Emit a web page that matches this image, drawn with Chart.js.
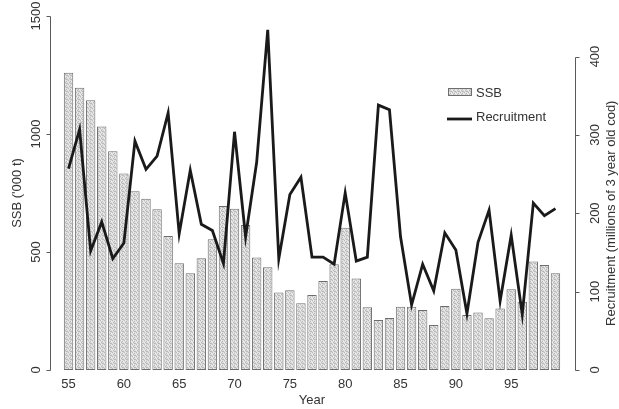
<!DOCTYPE html>
<html>
<head>
<meta charset="utf-8">
<script src="https://cdn.jsdelivr.net/npm/chart.js@4.4.1/dist/chart.umd.min.js"></script>
<style>
  html, body { margin: 0; padding: 0; background: #fff; }
  #wrap { width: 619px; height: 409px; }
</style>
</head>
<body>
<div id="wrap"><canvas id="codChart" width="619" height="409"></canvas></div>
<script>
// data
const years = [];
for (let y = 1955; y <= 1999; y++) years.push(y);

const ssb = [1260, 1196, 1143, 1032, 927, 833, 757, 726, 681, 568,
             452, 410, 473, 554, 695, 683, 614, 477, 435, 328,
             338, 283, 318, 377, 448, 603, 388, 266, 212, 220,
             268, 268, 254, 191, 271, 344, 233, 244, 219, 261,
             342, 289, 460, 445, 410];

const recruitment = [257, 307, 152, 189, 142, 162, 292, 256, 273, 328,
                     174, 255, 186, 178, 136, 304, 170, 265, 434, 142,
                     224, 246, 144, 144, 135, 226, 139, 144, 338, 332,
                     170, 83, 135, 101, 175, 153, 72, 163, 204, 88,
                     172, 71, 213, 197, 206];

const ssbTicks = [0, 500, 1000, 1500];
const recTicks = [0, 100, 200, 300, 400];
const yearTicks = [1955, 1960, 1965, 1970, 1975, 1980, 1985, 1990, 1995];

const FONT = '13px "Liberation Sans", Arial, sans-serif';
const TEXT = '#333333';
const AXIS = '#5a5a5a';

// stippled grey fill like the printed bars
function makePattern() {
    const c = document.createElement('canvas');
    c.width = 4; c.height = 4;
    const p = c.getContext('2d');
    p.fillStyle = '#dcdcdc';
    p.fillRect(0, 0, 4, 4);
    p.fillStyle = '#b8b8b8';
    [[0, 0], [2, 1], [1, 2], [3, 3], [2, 3]].forEach(([x, y]) => p.fillRect(x, y, 1, 1));
    p.fillStyle = '#eeeeee';
    [[1, 0], [3, 1], [0, 2]].forEach(([x, y]) => p.fillRect(x, y, 1, 1));
    return p.createPattern(c, 'repeat');
}
const barFill = makePattern();

function vText(ctx, txt, x, y) {
    ctx.save();
    ctx.translate(x, y);
    ctx.rotate(-Math.PI / 2);
    ctx.textAlign = 'center';
    ctx.textBaseline = 'middle';
    ctx.fillText(txt, 0, 0);
    ctx.restore();
}

// detached axes, tick labels, titles and legend
const axesPlugin = {
    id: 'rAxes',
    afterDraw(chart) {
        const ctx = chart.ctx;
        const ys = chart.scales.y, yr = chart.scales.y1, xs = chart.scales.x;
        ctx.save();
        ctx.strokeStyle = AXIS;
        ctx.lineWidth = 1;
        ctx.fillStyle = TEXT;
        ctx.font = FONT;

        // left axis
        const lx = 50.5;
        ctx.beginPath();
        ctx.moveTo(lx, Math.round(ys.getPixelForValue(0)) + 0.5);
        ctx.lineTo(lx, Math.round(ys.getPixelForValue(1500)) + 0.5);
        ssbTicks.forEach(v => {
            const py = Math.round(ys.getPixelForValue(v)) + 0.5;
            ctx.moveTo(lx - 4, py);
            ctx.lineTo(lx, py);
        });
        ctx.stroke();
        ssbTicks.forEach(v => vText(ctx, String(v), 36, ys.getPixelForValue(v)));
        vText(ctx, "SSB ('000 t)", 17, (ys.top + ys.bottom) / 2);

        // right axis
        const rx = 575.5;
        ctx.beginPath();
        ctx.moveTo(rx, Math.round(yr.getPixelForValue(0)) + 0.5);
        ctx.lineTo(rx, Math.round(yr.getPixelForValue(400)) + 0.5);
        recTicks.forEach(v => {
            const py = Math.round(yr.getPixelForValue(v)) + 0.5;
            ctx.moveTo(rx, py);
            ctx.lineTo(rx + 4, py);
        });
        ctx.stroke();
        recTicks.forEach(v => vText(ctx, String(v), 595, yr.getPixelForValue(v)));
        vText(ctx, 'Recruitment (millions of 3 year old cod)', 611,
              (yr.getPixelForValue(0) + yr.getPixelForValue(400)) / 2);

        // year labels
        ctx.textAlign = 'center';
        ctx.textBaseline = 'middle';
        yearTicks.forEach(yr2 => {
            const px = xs.getPixelForValue(years.indexOf(yr2));
            ctx.fillText(String(yr2).slice(2), px, 384);
        });
        ctx.fillText('Year', (xs.left + xs.right) / 2, 400);

        // legend
        ctx.fillStyle = barFill;
        ctx.fillRect(448, 88, 24, 8);
        ctx.strokeStyle = '#6e6e6e';
        ctx.strokeRect(448.5, 88.5, 23, 7);
        ctx.fillStyle = TEXT;
        ctx.textAlign = 'left';
        ctx.fillText('SSB', 476, 93);
        ctx.strokeStyle = '#1a1a1a';
        ctx.lineWidth = 2.8;
        ctx.beginPath();
        ctx.moveTo(447, 119);
        ctx.lineTo(472, 119);
        ctx.stroke();
        ctx.fillText('Recruitment', 476, 117);
        ctx.restore();
    }
};

const ctx = document.getElementById('codChart').getContext('2d');
const codChart = new Chart(ctx, {
    type: 'bar',
    data: {
        labels: years,
        datasets: [
            {
                type: 'line',
                label: 'Recruitment',
                data: recruitment,
                yAxisID: 'y1',
                borderColor: '#1a1a1a',
                borderWidth: 2.8,
                pointRadius: 0,
                tension: 0,
                fill: false,
                clip: false,
                order: 1
            },
            {
                type: 'bar',
                label: 'SSB',
                data: ssb,
                yAxisID: 'y',
                backgroundColor: barFill,
                borderColor: '#6e6e6e',
                borderWidth: 1,
                borderSkipped: false,
                barPercentage: 0.85,
                categoryPercentage: 1.0,
                order: 2
            }
        ]
    },
    options: {
        responsive: false,
        animation: false,
        layout: { padding: { left: 63, right: 58, top: 16, bottom: 39 } },
        plugins: {
            legend: { display: false },
            tooltip: { enabled: false }
        },
        scales: {
            x: { display: false, offset: true, grid: { display: false } },
            y: { display: false, min: 0, max: 1500, position: 'left' },
            y1: { display: false, min: 0, max: 451.7, position: 'right' }
        }
    },
    plugins: [axesPlugin]
});
</script>
</body>
</html>
